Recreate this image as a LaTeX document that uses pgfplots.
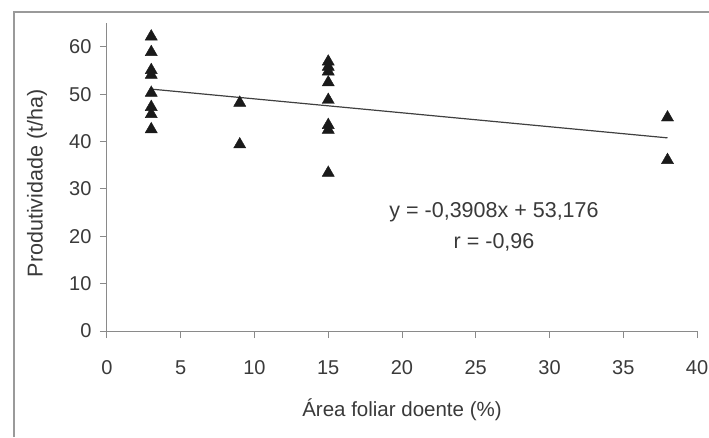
\documentclass[border=0pt]{standalone}
\usepackage{pgfplots}
\pgfplotsset{compat=1.18}
\usepackage{fontspec}
\setmainfont{Liberation Sans}
\definecolor{axgray}{HTML}{8A8A8A}
\definecolor{txt}{HTML}{3A3A3A}
\definecolor{mk}{HTML}{1A1A1A}
\definecolor{frame}{HTML}{9A9A9A}
\begin{document}
\begin{tikzpicture}[x=1pt,y=1pt]
\useasboundingbox (0,0) rectangle (709,437);
\fill[white] (0,0) rectangle (709,437);
\draw[frame, line width=2pt] (14,0) -- (14,425) -- (709,425);
\begin{axis}[
  at={(107pt,106pt)}, anchor=south west,
  scale only axis, width=590pt, height=307.7pt,
  xmin=0, xmax=40, ymin=0, ymax=65,
  axis x line=bottom, axis y line=left,
  axis line style={-, axgray, line width=1pt},
  xtick={0,5,...,40}, ytick={0,10,...,60},
  tick align=outside, major tick length=7pt,
  tick style={axgray, line width=1pt},
  /pgf/number format/assume math mode=true,
  tick label style={font=\fontsize{20}{23}\selectfont, text=txt},
  xticklabel style={yshift=-19pt},
  yticklabel style={xshift=-5pt},
  xlabel={Área foliar doente (\%)},
  ylabel={Produtividade (t/ha)},
  every axis x label/.style={at={(axis description cs:0.5,-0.257)}, anchor=center, font=\fontsize{20.5}{23}\selectfont, text=txt},
  every axis y label/.style={at={(axis description cs:-0.1186,0.48)}, anchor=center, rotate=90, font=\fontsize{21.5}{24}\selectfont, text=txt},
  clip=false,
]
\addplot[only marks, mark=triangle*, mark size=7pt, mark options={fill=mk, draw=mk}] coordinates {
  (3,62.2) (3,58.9) (3,55.1) (3,54.1) (3,50.3) (3,47.3) (3,45.8) (3,42.6)
  (9,48.2) (9,39.4)
  (15,56.9) (15,55.8) (15,54.8) (15,52.5) (15,48.8) (15,43.5) (15,42.5) (15,33.4)
  (38,45.1) (38,36.1)
};
\addplot[color=black!75, line width=1.2pt] coordinates {(3,51.1) (38,40.8)};
\node[text=txt, font=\fontsize{21.5}{24}\selectfont, anchor=center] at (axis cs:26.24,25.1) {y = -0,3908x + 53,176};
\node[text=txt, font=\fontsize{21.5}{24}\selectfont, anchor=center] at (axis cs:26.24,18.8) {r = -0,96};
\end{axis}
\end{tikzpicture}
\end{document}
